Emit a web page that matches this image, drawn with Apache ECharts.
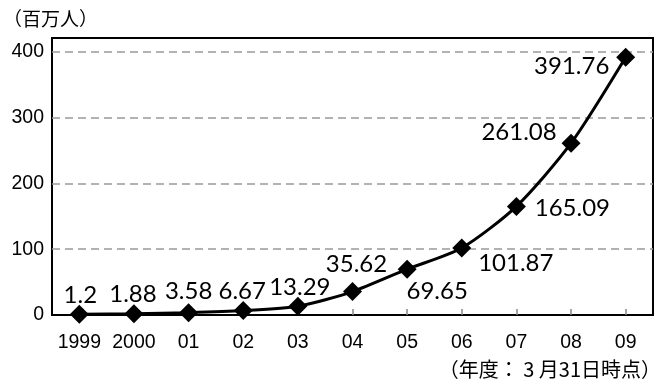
<!DOCTYPE html>
<html>
<head>
<meta charset="utf-8">
<title>line</title>
<script src="https://cdn.jsdelivr.net/npm/echarts@6/dist/echarts.min.js"></script>
<style>
    html, body { margin: 0; padding: 0; background: #fff; }
    #main { width: 655px; height: 383px; }
</style>
</head>
<body>
<div id="main"></div>
<script>
    // 年度ごとの値（百万人）
    var years = ['1999', '2000', '01', '02', '03', '04', '05', '06', '07', '08', '09'];
    var values = [1.2, 1.88, 3.58, 6.67, 13.29, 35.62, 69.65, 101.87, 165.09, 261.08, 391.76];
    var yTicks = [0, 100, 200, 300, 400];

    // ラベルの位置（点からのずれ）
    var labelOffsets = [[1, -19], [-1, -19], [0, -21], [-1, -19], [2, -19], [4, -27],
        [30, 22], [54, 15], [56, 2], [-52, -11], [-54, 9]];

    var chart = echarts.init(document.getElementById('main'));

    var seriesData = [];
    for (var i = 0; i < values.length; i++) {
        seriesData.push({
            value: values[i],
            label: { offset: labelOffsets[i] }
        });
    }

    // 破線の目盛線
    var gridLines = [];
    for (var j = 1; j < yTicks.length; j++) {
        gridLines.push({ yAxis: yTicks[j] });
    }

    var option = {
        animation: false,
        backgroundColor: '#fff',
        grid: {
            left: 52, right: 2, top: 38, bottom: 68,
            show: true, borderColor: '#000', borderWidth: 2
        },
        graphic: [
            { type: 'text', left: 3, top: 9,
              style: { text: '（百万人）', font: '19px "Noto Sans CJK JP"', fill: '#000' } },
            { type: 'text', right: -6, top: 359,
              style: { text: '（年度： 3 月31日時点）', font: '20px "Noto Sans CJK JP"', fill: '#000' } }
        ],
        xAxis: {
            type: 'category',
            data: years,
            boundaryGap: true,
            axisLine: { lineStyle: { color: '#000', width: 2 } },
            axisTick: { show: true, inside: true, alignWithLabel: true, length: 6,
                lineStyle: { color: '#888', width: 1.5 } },
            axisLabel: { interval: 0, color: '#000', fontSize: 19.5, fontFamily: 'Liberation Sans', margin: 18 }
        },
        yAxis: {
            type: 'value',
            min: 0,
            max: 421,
            interval: 100,
            axisLine: { show: true, lineStyle: { color: '#000', width: 2 } },
            axisTick: { show: false },
            axisLabel: {
                color: '#000', fontSize: 19.5, fontFamily: 'Liberation Sans', margin: 8,
                formatter: function (v) { return yTicks.indexOf(v) >= 0 ? String(v) : ''; }
            },
            splitLine: { show: false }
        },
        series: [{
            type: 'line',
            data: seriesData,
            smooth: 0.25,
            symbol: 'diamond',
            symbolSize: 19,
            z: 3,
            itemStyle: { color: '#000' },
            lineStyle: { color: '#000', width: 3 },
            label: {
                show: true,
                position: 'inside',
                color: '#000',
                fontSize: 24,
                fontFamily: 'Lato'
            },
            markLine: {
                silent: true,
                symbol: 'none',
                z: 1,
                label: { show: false },
                lineStyle: { color: '#999', width: 1.5, type: [8, 5] },
                data: gridLines
            }
        }]
    };
    chart.setOption(option);
</script>
</body>
</html>
